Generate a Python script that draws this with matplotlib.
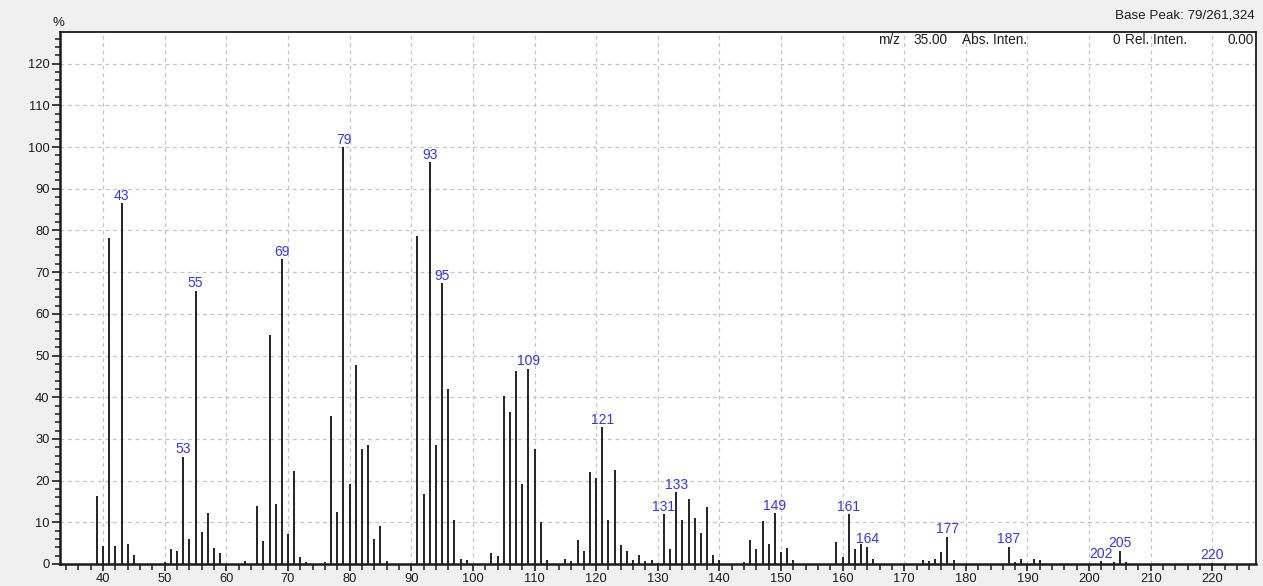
import matplotlib
matplotlib.use("Agg")
import matplotlib.pyplot as plt
from matplotlib.ticker import MultipleLocator

plt.rcParams['font.family'] = ['Liberation Sans', 'DejaVu Sans']

# m/z and relative intensity (%)
mz = [39, 40, 41, 42, 43, 44, 45, 50, 51, 52, 53, 54, 55, 56, 57, 58, 59, 63,
      65, 66, 67, 68, 69, 70, 71, 72, 73, 76, 77, 78, 79, 80, 81, 82, 83, 84,
      85, 86, 91, 92, 93, 94, 95, 96, 97, 98, 99, 103, 104, 105, 106, 107, 108,
      109, 110, 111, 112, 115, 116, 117, 118, 119, 120, 121, 122, 123, 124, 125,
      126, 127, 128, 129, 130, 131, 132, 133, 134, 135, 136, 137, 138, 139, 140,
      144, 145, 146, 147, 148, 149, 150, 151, 152, 159, 160, 161, 162, 163, 164,
      165, 173, 174, 175, 176, 177, 178, 187, 188, 189, 191, 192, 202, 204, 205,
      206, 220]
intensity = [16.3, 4.4, 78.2, 4.4, 86.6, 4.7, 2.2, 0.5, 3.5, 3.2, 25.7, 6.0, 65.5,
             7.6, 12.2, 3.8, 2.6, 0.6, 13.8, 5.6, 54.9, 14.4, 73.1, 7.3, 22.2, 1.7,
             0.4, 0.4, 35.4, 12.5, 100.0, 19.2, 47.8, 27.6, 28.5, 6.0, 9.2, 0.6,
             78.6, 16.9, 96.4, 28.5, 67.3, 42.0, 10.6, 1.2, 1.0, 2.6, 2.0, 40.4,
             36.4, 46.4, 19.2, 46.8, 27.6, 10.1, 1.0, 1.2, 0.6, 5.7, 3.1, 22.0,
             20.7, 32.8, 10.6, 22.6, 4.5, 3.2, 1.0, 2.2, 0.6, 1.0, 0.3, 11.9, 3.5,
             17.2, 10.6, 15.7, 11.0, 7.5, 13.6, 2.2, 1.0, 0.4, 5.7, 3.5, 10.4, 4.8,
             12.2, 2.9, 3.8, 1.0, 5.3, 1.7, 11.9, 3.5, 4.9, 4.1, 1.3, 1.0, 0.6, 1.3,
             2.9, 6.5, 1.0, 4.1, 0.4, 1.3, 1.3, 1.0, 0.6, 0.5, 3.2, 0.5, 0.3]

labelled = [43, 53, 55, 69, 79, 93, 95, 109, 121, 131, 133, 149, 161, 164, 177,
            187, 202, 205, 220]

W, H = 1263, 586
fig = plt.figure(figsize=(W / 100, H / 100), dpi=100, facecolor='#f0f0f0')
ax = fig.add_axes([60 / W, 1 - 564 / H, (1255.5 - 60) / W, (564 - 32) / H])
ax.set_facecolor('white')

ax.vlines(mz, 0, intensity, color='#222222', linewidth=1.4, zorder=3)

peaks = dict(zip(mz, intensity))
for m in labelled:
    ax.annotate(str(m), (m, peaks[m]), xytext=(0, 0.3), textcoords='offset points',
                ha='center', va='bottom', fontsize=10, color='#3535ee', zorder=4)

ax.set_xlim(33, 227)
ax.set_ylim(0, 127.6)
ax.xaxis.set_major_locator(MultipleLocator(10))
ax.xaxis.set_minor_locator(MultipleLocator(2))
ax.yaxis.set_major_locator(MultipleLocator(10))
ax.yaxis.set_minor_locator(MultipleLocator(2))
ax.grid(True, which='major', linestyle=(0, (3, 3)), color='#c4c4c4', linewidth=0.9)
ax.set_axisbelow(True)

ax.tick_params(axis='both', which='major', labelsize=9.3, colors='#1e1e1e',
               width=1.2, length=6, direction='out', pad=1.5)
ax.tick_params(axis='both', which='minor', width=1.1, length=3.5, direction='out',
               colors='#1e1e1e')
ax.tick_params(axis='x', which='major', length=5)
ax.tick_params(axis='x', which='minor', length=4)

for side in ['left', 'bottom']:
    ax.spines[side].set_linewidth(1.8)
for side in ['top', 'right']:
    ax.spines[side].set_linewidth(1.3)
for s in ax.spines.values():
    s.set_color('#1a1a1a')

# header texts
tc = '#1e1e1e'
fig.text(58 / W, 1 - 23 / H, '%', ha='center', va='center', fontsize=9.5, color=tc)
fig.text(1255 / W, 1 - 15.5 / H, 'Base Peak: 79/261,324', ha='right', va='center',
         fontsize=9.6, color=tc)
row_y = 1 - 39.5 / H
fs = 9.8
fig.text(900 / W, row_y, 'm/z', ha='right', va='center', fontsize=fs, color=tc)
fig.text(947 / W, row_y, '35.00', ha='right', va='center', fontsize=fs, color=tc)
fig.text(962 / W, row_y, 'Abs. Inten.', ha='left', va='center', fontsize=fs, color=tc)
fig.text(1120 / W, row_y, '0', ha='right', va='center', fontsize=fs, color=tc)
fig.text(1125 / W, row_y, 'Rel. Inten.', ha='left', va='center', fontsize=fs, color=tc)
fig.text(1254 / W, row_y, '0.00', ha='right', va='center', fontsize=fs, color=tc)

fig.savefig('out.png', dpi=100, facecolor=fig.get_facecolor())
